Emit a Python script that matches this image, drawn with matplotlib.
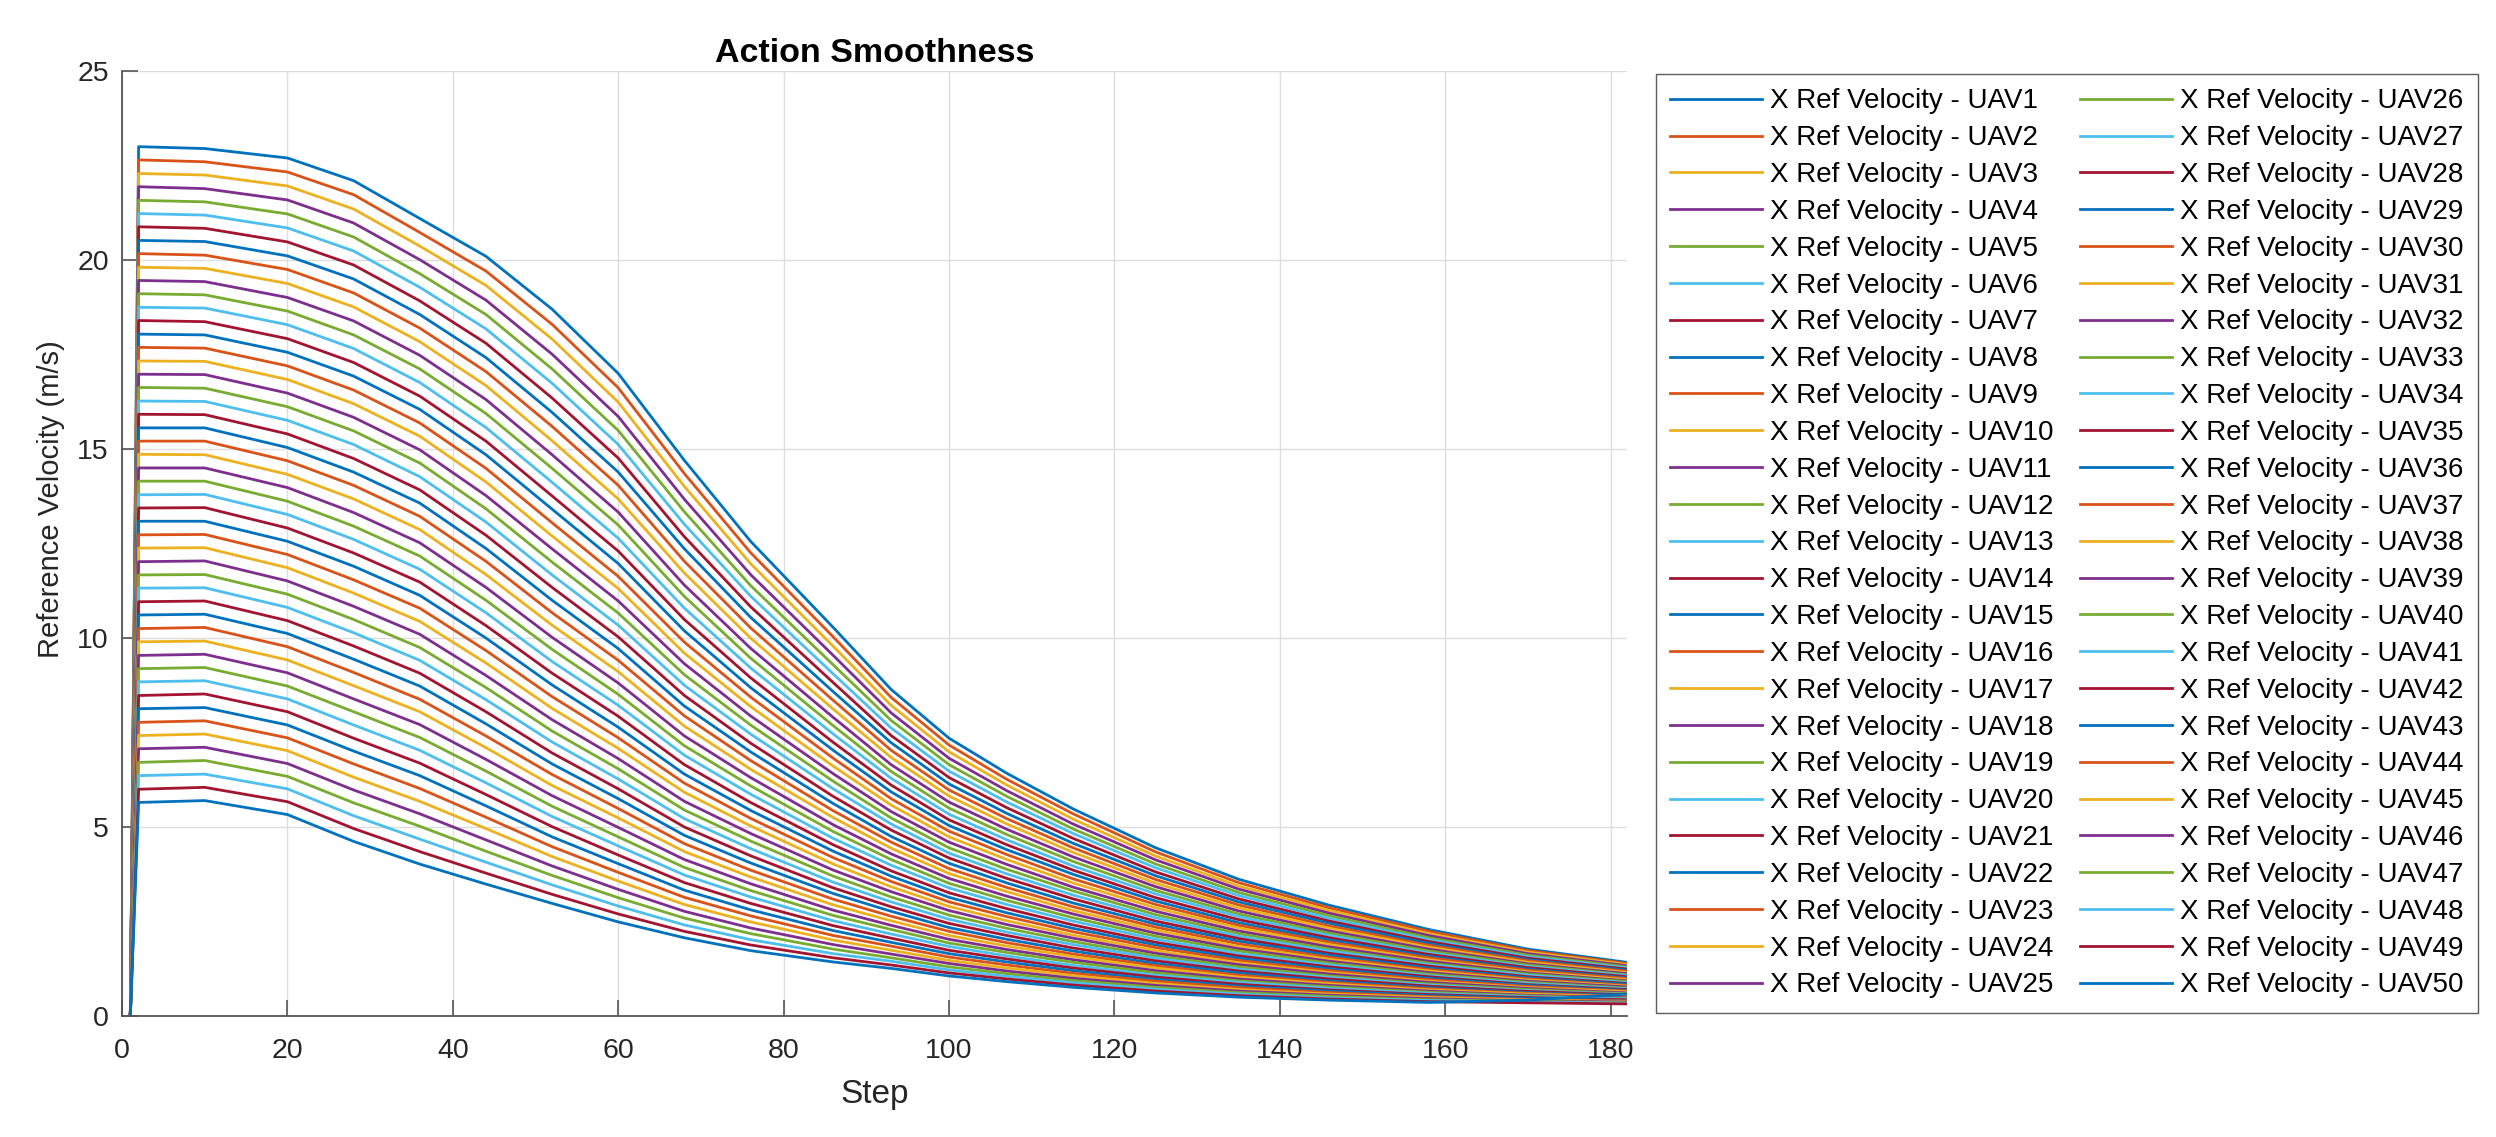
import matplotlib
matplotlib.use('Agg')
import matplotlib.pyplot as plt
import numpy as np

plt.rcParams['font.family'] = ['Liberation Sans', 'DejaVu Sans']

steps = [1, 2, 10, 20, 28, 36, 44, 52, 60, 68, 76, 86, 93, 100, 107,
         115, 125, 135, 146, 158, 170, 182]

v_s1 = [0.0] * 50
v_s2 = [23.00, 22.65, 22.29, 21.94, 21.58, 21.23, 20.88, 20.52, 20.17, 19.81,
        19.46, 19.11, 18.75, 18.40, 18.04, 17.69, 17.33, 16.98, 16.63, 16.27,
        15.92, 15.56, 15.21, 14.86, 14.50, 14.15, 13.79, 13.44, 13.09, 12.73,
        12.38, 12.02, 11.67, 11.32, 10.96, 10.61, 10.25, 9.90, 9.54, 9.19,
        8.84, 8.48, 8.13, 7.77, 7.42, 7.07, 6.71, 6.36, 6.00, 5.65]
v_s10 = [22.95, 22.60, 22.25, 21.89, 21.54, 21.19, 20.84, 20.49, 20.13, 19.78,
         19.43, 19.08, 18.73, 18.37, 18.02, 17.67, 17.32, 16.97, 16.61, 16.26,
         15.91, 15.56, 15.21, 14.85, 14.50, 14.15, 13.80, 13.45, 13.09, 12.74,
         12.39, 12.04, 11.68, 11.33, 10.98, 10.63, 10.28, 9.92, 9.57, 9.22,
         8.87, 8.52, 8.16, 7.81, 7.46, 7.11, 6.76, 6.40, 6.05, 5.70]
v_s20 = [22.70, 22.33, 21.96, 21.59, 21.22, 20.85, 20.48, 20.11, 19.75, 19.38,
         19.01, 18.65, 18.29, 17.92, 17.56, 17.20, 16.84, 16.48, 16.12, 15.76,
         15.40, 15.04, 14.69, 14.33, 13.98, 13.62, 13.27, 12.91, 12.56, 12.21,
         11.86, 11.51, 11.16, 10.81, 10.46, 10.12, 9.77, 9.42, 9.08, 8.73,
         8.39, 8.05, 7.70, 7.36, 7.02, 6.68, 6.34, 6.01, 5.67, 5.33]
v_s28 = [22.10, 21.73, 21.35, 20.98, 20.61, 20.24, 19.87, 19.50, 19.13, 18.76,
         18.39, 18.02, 17.66, 17.29, 16.93, 16.56, 16.20, 15.84, 15.48, 15.12,
         14.75, 14.39, 14.04, 13.68, 13.32, 12.96, 12.61, 12.25, 11.90, 11.54,
         11.19, 10.84, 10.49, 10.14, 9.79, 9.44, 9.09, 8.74, 8.39, 8.05,
         7.70, 7.35, 7.01, 6.67, 6.32, 5.98, 5.64, 5.30, 4.96, 4.62]
v_s36 = [21.10, 20.73, 20.37, 20.01, 19.64, 19.28, 18.92, 18.56, 18.20, 17.84,
         17.48, 17.12, 16.76, 16.40, 16.05, 15.69, 15.34, 14.98, 14.63, 14.27,
         13.92, 13.57, 13.22, 12.87, 12.52, 12.17, 11.82, 11.48, 11.13, 10.79,
         10.44, 10.10, 9.75, 9.41, 9.07, 8.73, 8.38, 8.05, 7.71, 7.37,
         7.03, 6.69, 6.36, 6.02, 5.68, 5.35, 5.02, 4.68, 4.35, 4.02]
v_s44 = [20.10, 19.71, 19.33, 18.94, 18.56, 18.18, 17.80, 17.42, 17.05, 16.68,
         16.31, 15.94, 15.57, 15.21, 14.85, 14.49, 14.13, 13.77, 13.42, 13.07,
         12.72, 12.37, 12.03, 11.68, 11.34, 11.00, 10.67, 10.33, 10.00, 9.67,
         9.34, 9.01, 8.69, 8.37, 8.05, 7.73, 7.41, 7.10, 6.79, 6.48,
         6.17, 5.86, 5.56, 5.26, 4.96, 4.66, 4.36, 4.07, 3.78, 3.49]
v_s52 = [18.70, 18.30, 17.91, 17.51, 17.12, 16.74, 16.35, 15.97, 15.60, 15.22,
         14.85, 14.49, 14.12, 13.76, 13.41, 13.05, 12.70, 12.36, 12.01, 11.67,
         11.34, 11.00, 10.67, 10.34, 10.02, 9.70, 9.38, 9.07, 8.76, 8.45,
         8.14, 7.84, 7.54, 7.25, 6.96, 6.67, 6.39, 6.10, 5.83, 5.55,
         5.28, 5.01, 4.74, 4.48, 4.22, 3.97, 3.72, 3.47, 3.22, 2.98]
v_s60 = [17.00, 16.62, 16.24, 15.86, 15.49, 15.12, 14.76, 14.39, 14.04, 13.68,
         13.33, 12.99, 12.64, 12.30, 11.97, 11.63, 11.31, 10.98, 10.66, 10.34,
         10.03, 9.72, 9.41, 9.11, 8.81, 8.51, 8.22, 7.93, 7.64, 7.36,
         7.08, 6.81, 6.54, 6.27, 6.01, 5.75, 5.49, 5.24, 4.99, 4.74,
         4.50, 4.26, 4.03, 3.80, 3.57, 3.35, 3.13, 2.91, 2.70, 2.49]
v_s68 = [14.70, 14.35, 14.01, 13.67, 13.34, 13.01, 12.68, 12.36, 12.03, 11.72,
         11.40, 11.10, 10.79, 10.49, 10.19, 9.89, 9.60, 9.32, 9.03, 8.75,
         8.48, 8.20, 7.94, 7.67, 7.41, 7.15, 6.90, 6.65, 6.40, 6.16,
         5.92, 5.68, 5.45, 5.22, 5.00, 4.78, 4.56, 4.35, 4.14, 3.93,
         3.73, 3.53, 3.33, 3.14, 2.95, 2.77, 2.59, 2.41, 2.24, 2.07]
v_s76 = [12.56, 12.26, 11.97, 11.68, 11.39, 11.11, 10.83, 10.55, 10.27, 10.00,
         9.73, 9.47, 9.21, 8.95, 8.69, 8.44, 8.19, 7.94, 7.70, 7.46,
         7.22, 6.99, 6.76, 6.53, 6.31, 6.09, 5.87, 5.65, 5.44, 5.23,
         5.03, 4.83, 4.63, 4.43, 4.24, 4.05, 3.86, 3.68, 3.50, 3.32,
         3.15, 2.98, 2.81, 2.65, 2.49, 2.33, 2.18, 2.02, 1.88, 1.73]
v_s86 = [10.28, 10.03, 9.78, 9.54, 9.29, 9.05, 8.82, 8.58, 8.35, 8.12,
         7.90, 7.68, 7.46, 7.24, 7.03, 6.82, 6.61, 6.41, 6.21, 6.01,
         5.81, 5.62, 5.43, 5.25, 5.06, 4.88, 4.70, 4.53, 4.36, 4.19,
         4.02, 3.86, 3.70, 3.54, 3.39, 3.24, 3.09, 2.94, 2.80, 2.66,
         2.52, 2.39, 2.26, 2.13, 2.01, 1.89, 1.77, 1.65, 1.54, 1.43]
v_s93 = [8.64, 8.43, 8.22, 8.02, 7.82, 7.62, 7.42, 7.23, 7.03, 6.84,
         6.65, 6.47, 6.29, 6.11, 5.93, 5.75, 5.58, 5.41, 5.24, 5.08,
         4.92, 4.75, 4.60, 4.44, 4.29, 4.14, 3.99, 3.84, 3.70, 3.56,
         3.42, 3.29, 3.15, 3.02, 2.89, 2.77, 2.64, 2.52, 2.40, 2.29,
         2.17, 2.06, 1.95, 1.85, 1.74, 1.64, 1.54, 1.45, 1.35, 1.26]
v_s100 = [7.35, 7.17, 6.99, 6.82, 6.65, 6.48, 6.31, 6.14, 5.98, 5.82,
          5.66, 5.50, 5.34, 5.19, 5.04, 4.89, 4.74, 4.60, 4.45, 4.31,
          4.18, 4.04, 3.90, 3.77, 3.64, 3.51, 3.39, 3.26, 3.14, 3.02,
          2.90, 2.79, 2.67, 2.56, 2.45, 2.34, 2.24, 2.13, 2.03, 1.93,
          1.84, 1.74, 1.65, 1.56, 1.47, 1.39, 1.30, 1.22, 1.14, 1.06]
v_s107 = [6.42, 6.26, 6.11, 5.96, 5.81, 5.66, 5.51, 5.36, 5.22, 5.08,
          4.94, 4.80, 4.66, 4.53, 4.40, 4.27, 4.14, 4.01, 3.88, 3.76,
          3.64, 3.52, 3.40, 3.29, 3.17, 3.06, 2.95, 2.84, 2.73, 2.63,
          2.52, 2.42, 2.32, 2.22, 2.13, 2.03, 1.94, 1.85, 1.76, 1.68,
          1.59, 1.51, 1.43, 1.35, 1.27, 1.19, 1.12, 1.05, 0.98, 0.91]
v_s115 = [5.48, 5.35, 5.21, 5.08, 4.95, 4.83, 4.70, 4.57, 4.45, 4.33,
          4.21, 4.09, 3.97, 3.86, 3.75, 3.63, 3.52, 3.41, 3.31, 3.20,
          3.10, 2.99, 2.89, 2.79, 2.70, 2.60, 2.51, 2.41, 2.32, 2.23,
          2.14, 2.06, 1.97, 1.89, 1.80, 1.72, 1.64, 1.57, 1.49, 1.42,
          1.34, 1.27, 1.20, 1.13, 1.07, 1.00, 0.94, 0.88, 0.82, 0.76]
v_s125 = [4.45, 4.34, 4.23, 4.13, 4.02, 3.92, 3.81, 3.71, 3.61, 3.51,
          3.42, 3.32, 3.23, 3.13, 3.04, 2.95, 2.86, 2.77, 2.68, 2.60,
          2.51, 2.43, 2.35, 2.27, 2.19, 2.11, 2.03, 1.95, 1.88, 1.81,
          1.73, 1.66, 1.59, 1.53, 1.46, 1.39, 1.33, 1.27, 1.20, 1.14,
          1.08, 1.03, 0.97, 0.92, 0.86, 0.81, 0.76, 0.71, 0.66, 0.61]
v_s135 = [3.62, 3.53, 3.44, 3.36, 3.27, 3.19, 3.10, 3.02, 2.94, 2.86,
          2.78, 2.70, 2.63, 2.55, 2.47, 2.40, 2.33, 2.25, 2.18, 2.11,
          2.05, 1.98, 1.91, 1.84, 1.78, 1.72, 1.65, 1.59, 1.53, 1.47,
          1.41, 1.36, 1.30, 1.24, 1.19, 1.14, 1.08, 1.03, 0.98, 0.93,
          0.89, 0.84, 0.79, 0.75, 0.70, 0.66, 0.62, 0.58, 0.54, 0.50]
v_s146 = [2.93, 2.86, 2.79, 2.72, 2.65, 2.58, 2.51, 2.45, 2.38, 2.32,
          2.25, 2.19, 2.13, 2.07, 2.01, 1.95, 1.89, 1.83, 1.77, 1.72,
          1.66, 1.61, 1.55, 1.50, 1.45, 1.40, 1.35, 1.30, 1.25, 1.20,
          1.15, 1.11, 1.06, 1.02, 0.98, 0.93, 0.89, 0.85, 0.81, 0.77,
          0.73, 0.69, 0.66, 0.62, 0.58, 0.55, 0.52, 0.48, 0.45, 0.42]
v_s158 = [2.29, 2.24, 2.18, 2.13, 2.07, 2.02, 1.97, 1.92, 1.87, 1.82,
          1.77, 1.72, 1.67, 1.63, 1.58, 1.54, 1.49, 1.45, 1.40, 1.36,
          1.32, 1.27, 1.23, 1.19, 1.15, 1.11, 1.07, 1.04, 1.00, 0.96,
          0.92, 0.89, 0.85, 0.82, 0.79, 0.75, 0.72, 0.69, 0.66, 0.63,
          0.60, 0.57, 0.54, 0.51, 0.49, 0.46, 0.43, 0.41, 0.38, 0.36]
v_s170 = [1.77, 1.73, 1.69, 1.65, 1.61, 1.57, 1.53, 1.49, 1.46, 1.42,
          1.38, 1.35, 1.31, 1.28, 1.24, 1.21, 1.17, 1.14, 1.11, 1.08,
          1.04, 1.01, 0.98, 0.95, 0.92, 0.89, 0.86, 0.83, 0.81, 0.78,
          0.75, 0.73, 0.70, 0.67, 0.65, 0.62, 0.60, 0.58, 0.55, 0.53,
          0.51, 0.49, 0.47, 0.44, 0.42, 0.40, 0.39, 0.37, 0.35, 0.42]
v_s182 = [1.42, 1.39, 1.36, 1.33, 1.30, 1.27, 1.24, 1.21, 1.18, 1.15,
          1.12, 1.09, 1.07, 1.04, 1.01, 0.99, 0.96, 0.93, 0.91, 0.88,
          0.86, 0.84, 0.81, 0.79, 0.77, 0.74, 0.72, 0.70, 0.68, 0.66,
          0.64, 0.61, 0.59, 0.57, 0.56, 0.54, 0.52, 0.50, 0.48, 0.46,
          0.45, 0.43, 0.41, 0.40, 0.38, 0.37, 0.35, 0.34, 0.32, 0.58]

cols = [v_s1, v_s2, v_s10, v_s20, v_s28, v_s36, v_s44, v_s52, v_s60,
        v_s68, v_s76, v_s86, v_s93, v_s100, v_s107, v_s115, v_s125,
        v_s135, v_s146, v_s158, v_s170, v_s182]
vel = np.array(cols).T

colors = ['#0072BD', '#D95319', '#EDB120', '#7E2F8E',
          '#77AC30', '#4DBEEE', '#A2142F']

fig = plt.figure(figsize=(24.96, 11.37), dpi=100)
ax = fig.add_axes([0.0489, 0.1064, 0.6030, 0.8311])

for i in range(vel.shape[0]):
    ax.plot(steps, vel[i], color=colors[i % 7], lw=2.0,
            label='X Ref Velocity - UAV%d' % (i + 1))

ax.set_xlim(0, 182)
ax.set_ylim(0, 25)
ax.set_xticks(range(0, 181, 20))
ax.set_yticks(range(0, 26, 5))
ax.grid(True, color='#dedede', lw=1.0)
ax.set_axisbelow(True)

for s in ['top', 'right']:
    ax.spines[s].set_visible(False)
for s in ['left', 'bottom']:
    ax.spines[s].set_color('#555555')
    ax.spines[s].set_linewidth(1.3)

ax.tick_params(axis='both', direction='in', length=11.5, width=1.2,
               color='#555555', labelsize=20.5, labelcolor='#262626')
ax.tick_params(axis='x', pad=15.5)
ax.tick_params(axis='y', pad=9.5)

ax.set_title('Action Smoothness', fontsize=24.5, fontweight='bold', pad=6.5)
ax.set_xlabel('Step', fontsize=24, color='#262626')
ax.set_ylabel('Reference Velocity (m/s)', fontsize=21, color='#262626')
ax.xaxis.set_label_coords(0.5, -0.0667)
ax.yaxis.set_label_coords(-0.038, 0.547)

leg = ax.legend(ncol=2, loc='upper left', bbox_to_anchor=(1656 / 2496, 1 - 74 / 1137),
                bbox_transform=fig.transFigure, fontsize=20, frameon=True,
                fancybox=False, edgecolor='#333333', borderpad=0.52,
                labelspacing=0.39, handlelength=3.3, handletextpad=0.29,
                columnspacing=0.95, borderaxespad=0)
leg.get_frame().set_linewidth(1.0)

fig.savefig('out.png', dpi=100)
